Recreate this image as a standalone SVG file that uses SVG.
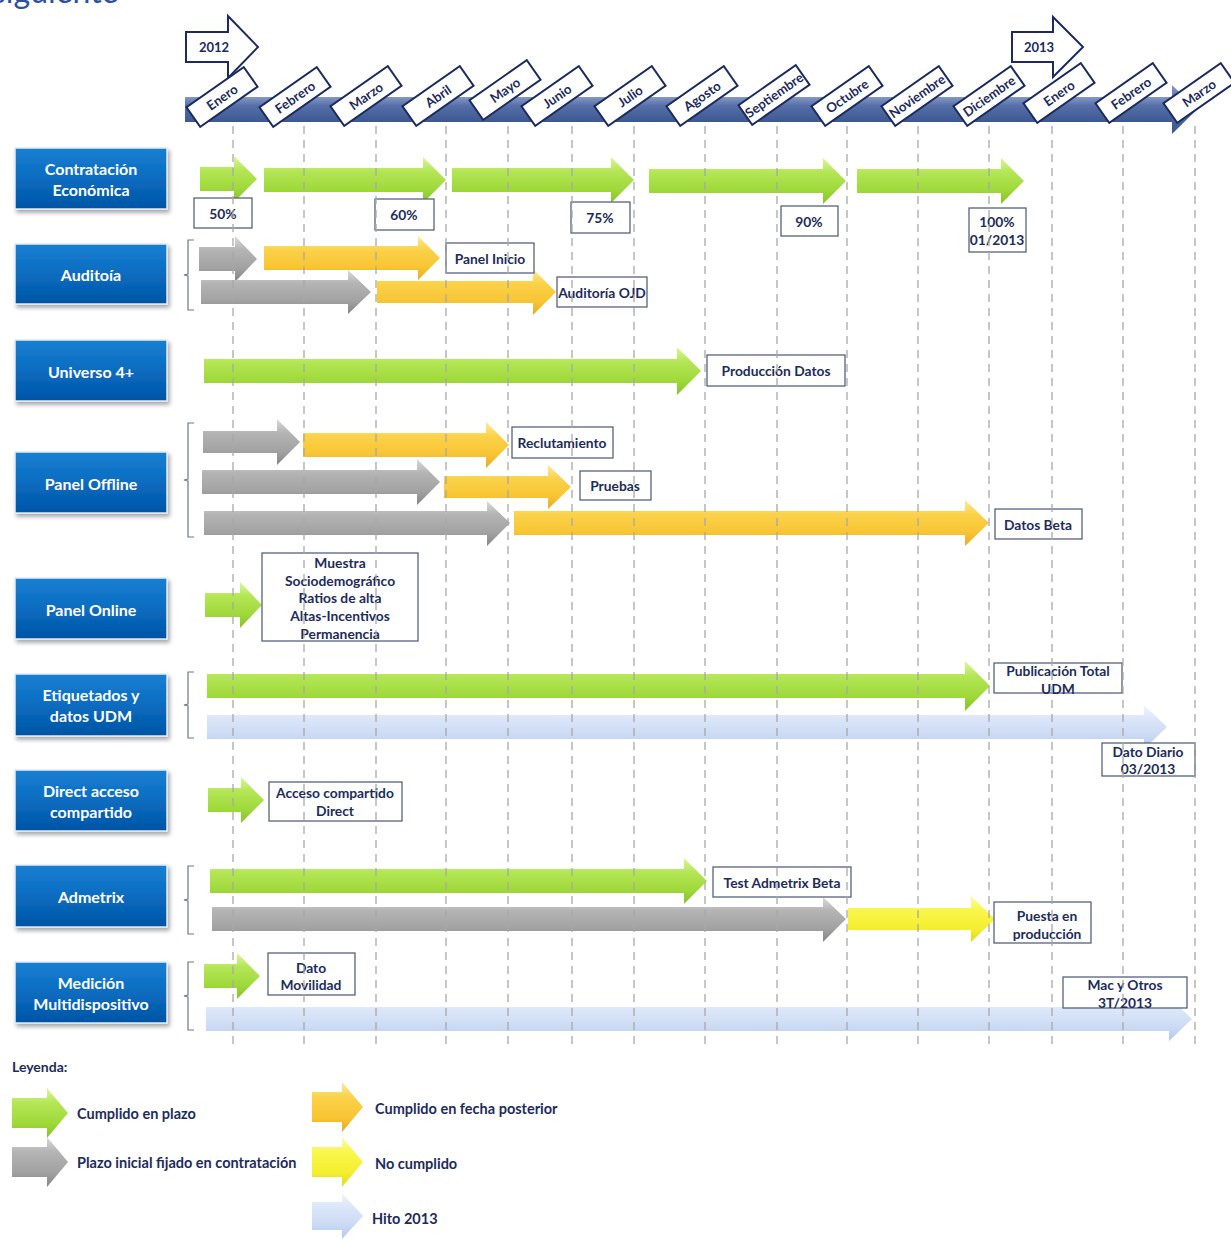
<svg xmlns="http://www.w3.org/2000/svg" width="1231" height="1239" viewBox="0 0 1231 1239">
  <defs>
    <linearGradient id="gGreen" x1="0" y1="0" x2="0" y2="1">
      <stop offset="0" stop-color="#dcf79a"/>
      <stop offset="0.3" stop-color="#b4e656"/>
      <stop offset="0.7" stop-color="#9fd93a"/>
      <stop offset="1" stop-color="#86c428"/>
    </linearGradient>
    <linearGradient id="gGray" x1="0" y1="0" x2="0" y2="1">
      <stop offset="0" stop-color="#dadada"/>
      <stop offset="0.3" stop-color="#b4b4b4"/>
      <stop offset="0.7" stop-color="#a2a2a2"/>
      <stop offset="1" stop-color="#858585"/>
    </linearGradient>
    <linearGradient id="gOrange" x1="0" y1="0" x2="0" y2="1">
      <stop offset="0" stop-color="#feea96"/>
      <stop offset="0.3" stop-color="#fbd24a"/>
      <stop offset="0.7" stop-color="#f8c534"/>
      <stop offset="1" stop-color="#eaaa1e"/>
    </linearGradient>
    <linearGradient id="gYellow" x1="0" y1="0" x2="0" y2="1">
      <stop offset="0" stop-color="#fdfda8"/>
      <stop offset="0.3" stop-color="#f9f64c"/>
      <stop offset="0.7" stop-color="#f4ef30"/>
      <stop offset="1" stop-color="#e2da1c"/>
    </linearGradient>
    <linearGradient id="gBlue" x1="0" y1="0" x2="0" y2="1">
      <stop offset="0" stop-color="#f2f6fe"/>
      <stop offset="0.3" stop-color="#dbe6f9"/>
      <stop offset="0.7" stop-color="#cbdaf4"/>
      <stop offset="1" stop-color="#b2c8ec"/>
    </linearGradient>
    <linearGradient id="gNode" x1="0" y1="0" x2="0" y2="1">
      <stop offset="0" stop-color="#1a7fd2"/>
      <stop offset="0.5" stop-color="#0a6cc0"/>
      <stop offset="1" stop-color="#0054a4"/>
    </linearGradient>
    <linearGradient id="gBar" x1="0" y1="0" x2="0" y2="1">
      <stop offset="0" stop-color="#8599c6"/>
      <stop offset="0.35" stop-color="#566fa8"/>
      <stop offset="1" stop-color="#3d5790"/>
    </linearGradient>
    <filter id="shadow" x="-10%" y="-20%" width="125%" height="150%">
      <feDropShadow dx="2" dy="3" stdDeviation="2" flood-color="#000" flood-opacity="0.35"/>
    </filter>
    <style>
      text { font-family: Lato, "Liberation Sans", sans-serif; font-weight: 700; }
      .node rect { fill: url(#gNode); stroke: #e4ebf4; stroke-width: 1.5; filter: url(#shadow); }
      .node text { fill: #ffffff; font-size: 16px; text-anchor: middle; dominant-baseline: central; }
      .lbl rect { fill: #ffffff; stroke: #56627e; stroke-width: 1.3; }
      .lbl text { fill: #1d2c5c; font-size: 13.8px; text-anchor: middle; dominant-baseline: central; }
      .month rect { fill: #ffffff; stroke: #1c2b5e; stroke-width: 2; }
      .month text { fill: #1c2b5e; font-size: 13.2px; text-anchor: middle; dominant-baseline: central; }
      .year path { fill: #ffffff; stroke: #1c2b5e; stroke-width: 2; }
      .year text { fill: #1c2b5e; font-size: 13px; text-anchor: middle; dominant-baseline: central; }
      .g { fill: url(#gGreen); }
      .gr { fill: url(#gGray); }
      .o { fill: url(#gOrange); }
      .y { fill: url(#gYellow); }
      .b { fill: url(#gBlue); }
      .brace { fill: none; stroke: #6e7686; stroke-width: 1.2; }
      .grid line { stroke: #a8a8a8; stroke-width: 2; stroke-dasharray: 8 6; opacity: 0.65; }
      .legend text { fill: #1d2c5c; font-size: 14.5px; dominant-baseline: central; }
    </style>
  </defs>

  <rect width="1231" height="1239" fill="#ffffff"/>

  <!-- heading line running off the top edge -->
  <text x="-8" y="3" font-size="32" fill="#2e4f9e" style="font-weight:400">siguiente</text>

  <!-- timeline bar -->
  <g id="timeline">
    <rect x="185" y="97" width="988" height="25" fill="url(#gBar)"/>
    <path d="M1172,85 L1197,109.5 L1172,134 Z" fill="url(#gBar)"/>
  </g>

  <!-- year markers -->
  <g id="year-2012" class="year">
    <path d="M186,32 H228 V16 L258,47 L228,78 V62 H186 Z"/>
    <text x="214" y="47">2012</text>
  </g>
  <g id="year-2013" class="year">
    <path d="M1012,32 H1053 V17 L1083,47 L1053,77 V62 H1012 Z"/>
    <text x="1039" y="47">2013</text>
  </g>

  <!-- month tags -->
  <g id="months" class="month">
    <g transform="translate(222,97) rotate(-35)"><rect x="-35" y="-12" width="70" height="24"/><text>Enero</text></g>
    <g transform="translate(295,97) rotate(-35)"><rect x="-35" y="-12" width="70" height="24"/><text>Febrero</text></g>
    <g transform="translate(366,96) rotate(-35)"><rect x="-35" y="-12" width="70" height="24"/><text>Marzo</text></g>
    <g transform="translate(438,96) rotate(-35)"><rect x="-35" y="-12" width="70" height="24"/><text>Abril</text></g>
    <g transform="translate(505,90) rotate(-35)"><rect x="-35" y="-12" width="70" height="24"/><text>Mayo</text></g>
    <g transform="translate(557,96) rotate(-35)"><rect x="-35" y="-12" width="70" height="24"/><text>Junio</text></g>
    <g transform="translate(630,96) rotate(-35)"><rect x="-35" y="-12" width="70" height="24"/><text>Julio</text></g>
    <g transform="translate(702,96) rotate(-35)"><rect x="-35" y="-12" width="70" height="24"/><text>Agosto</text></g>
    <g transform="translate(774,95) rotate(-35)"><rect x="-35" y="-12" width="70" height="24"/><text>Septiembre</text></g>
    <g transform="translate(847,96) rotate(-35)"><rect x="-35" y="-12" width="70" height="24"/><text>Octubre</text></g>
    <g transform="translate(917,96) rotate(-35)"><rect x="-35" y="-12" width="70" height="24"/><text>Noviembre</text></g>
    <g transform="translate(989,96) rotate(-35)"><rect x="-35" y="-12" width="70" height="24"/><text>Diciembre</text></g>
    <g transform="translate(1059,93) rotate(-35)"><rect x="-35" y="-12" width="70" height="24"/><text>Enero</text></g>
    <g transform="translate(1131,93) rotate(-35)"><rect x="-35" y="-12" width="70" height="24"/><text>Febrero</text></g>
    <g transform="translate(1199,93) rotate(-35)"><rect x="-35" y="-12" width="70" height="24"/><text>Marzo</text></g>
  </g>

  <!-- work-stream boxes -->
  <g id="n-contratacion" class="node"><rect x="15" y="148" width="152" height="61"/><text x="91" y="168">Contratación</text><text x="91" y="189">Económica</text></g>
  <g id="n-auditoria" class="node"><rect x="15" y="244" width="152" height="60"/><text x="91" y="274">Auditoía</text></g>
  <g id="n-universo" class="node"><rect x="15" y="340" width="152" height="61"/><text x="91" y="371">Universo 4+</text></g>
  <g id="n-offline" class="node"><rect x="15" y="452" width="152" height="61"/><text x="91" y="483">Panel Offline</text></g>
  <g id="n-online" class="node"><rect x="15" y="578" width="152" height="61"/><text x="91" y="609">Panel Online</text></g>
  <g id="n-etiquetados" class="node"><rect x="15" y="674" width="152" height="62"/><text x="91" y="694">Etiquetados y</text><text x="91" y="715">datos UDM</text></g>
  <g id="n-direct" class="node"><rect x="15" y="770" width="152" height="61"/><text x="91" y="790">Direct acceso</text><text x="91" y="811">compartido</text></g>
  <g id="n-admetrix" class="node"><rect x="15" y="865" width="152" height="62"/><text x="91" y="896">Admetrix</text></g>
  <g id="n-medicion" class="node"><rect x="15" y="962" width="152" height="61"/><text x="91" y="982">Medición</text><text x="91" y="1003">Multidispositivo</text></g>

  <!-- braces grouping parallel tracks -->
  <g id="braces">
    <path class="brace" d="M194,240 H188 V274 L184,275 L188,276 V310 H194"/>
    <path class="brace" d="M194,423 H188 V479 L184,480 L188,481 V537 H194"/>
    <path class="brace" d="M194,672 H188 V704 L184,705 L188,706 V738 H194"/>
    <path class="brace" d="M194,866 H188 V899 L184,900 L188,901 V934 H194"/>
    <path class="brace" d="M194,962 H188 V995 L184,996 L188,997 V1030 H194"/>
  </g>

  <!-- connectors: progress arrows -->
  <g id="connectors">
    <!-- Contratación Económica -->
    <path class="g" d="M200,167H234V156L257,179L234,202V191H200Z"/>
    <path class="g" d="M264,168H423V157L446,180L423,203V192H264Z"/>
    <path class="g" d="M452,168H611V157L634,180L611,203V192H452Z"/>
    <path class="g" d="M649,169H823V158L846,181L823,204V193H649Z"/>
    <path class="g" d="M857,169H1001V158L1024,181L1001,204V193H857Z"/>
    <!-- Auditoía -->
    <path class="gr" d="M199,247H235V236L257,259L235,282V271H199Z"/>
    <path class="o" d="M264,246H418V236L440,258L418,280V270H264Z"/>
    <path class="gr" d="M201,280H348V270L371,292L348,314V304H201Z"/>
    <path class="o" d="M377,281H533V269L556,292L533,315V303H377Z"/>
    <!-- Universo 4+ -->
    <path class="g" d="M204,359H677V347L701,371L677,395V383H204Z"/>
    <!-- Panel Offline -->
    <path class="gr" d="M203,431H277V419L300,442L277,465V453H203Z"/>
    <path class="o" d="M303,433H486V422L509,445L486,468V457H303Z"/>
    <path class="gr" d="M202,470H417V459L440,482L417,505V494H202Z"/>
    <path class="o" d="M444,476H548V465L571,487L548,509V498H444Z"/>
    <path class="gr" d="M204,511H487V501L510,523L487,546V535H204Z"/>
    <path class="o" d="M514,511H965V500L989,523L965,546V535H514Z"/>
    <!-- Panel Online -->
    <path class="g" d="M205,593H240V582L262,605L240,628V617H205Z"/>
    <!-- Etiquetados y datos UDM -->
    <path class="g" d="M207,674H965V661L990,686L965,711V698H207Z"/>
    <path class="b" d="M207,715H1144V705L1167,727L1144,749V739H207Z"/>
    <!-- Direct acceso compartido -->
    <path class="g" d="M208,788H241V777L264,800L241,823V812H208Z"/>
    <!-- Admetrix -->
    <path class="g" d="M210,869H684V858L707,881L684,904V893H210Z"/>
    <path class="gr" d="M212,907H823V897L846,919L823,942V931H212Z"/>
    <path class="y" d="M848,908H971V896L995,919L971,942V930H848Z"/>
    <!-- Medición Multidispositivo -->
    <path class="g" d="M204,964H237V953L260,976L237,999V988H204Z"/>
    <path class="b" d="M206,1007H1169V997L1192,1019L1169,1041V1031H206Z"/>
  </g>

  <!-- milestone labels -->
  <g id="labels" class="lbl">
    <g id="l-50"><rect x="194" y="198" width="58" height="30"/><text x="223" y="213">50%</text></g>
    <g id="l-60"><rect x="375" y="199" width="59" height="31"/><text x="404" y="214">60%</text></g>
    <g id="l-75"><rect x="571" y="202" width="59" height="31"/><text x="600" y="217">75%</text></g>
    <g id="l-90"><rect x="781" y="206" width="57" height="30"/><text x="809" y="221">90%</text></g>
    <g id="l-100"><rect x="969" y="208" width="57" height="44"/><text x="997" y="221">100%</text><text x="997" y="239">01/2013</text></g>
    <g id="l-panel-inicio"><rect x="446" y="243" width="88" height="30"/><text x="490" y="258">Panel Inicio</text></g>
    <g id="l-ojd"><rect x="557" y="277" width="90" height="30"/><text x="602" y="292">Auditoría OJD</text></g>
    <g id="l-produccion"><rect x="707" y="355" width="138" height="31"/><text x="776" y="370">Producción Datos</text></g>
    <g id="l-reclutamiento"><rect x="512" y="427" width="101" height="31"/><text x="562" y="442">Reclutamiento</text></g>
    <g id="l-pruebas"><rect x="580" y="471" width="71" height="29"/><text x="615" y="485">Pruebas</text></g>
    <g id="l-datos-beta"><rect x="995" y="509" width="87" height="30"/><text x="1038" y="524">Datos Beta</text></g>
    <g id="l-muestra"><rect x="262" y="553" width="156" height="88"/>
      <text x="340" y="562">Muestra</text><text x="340" y="580">Sociodemográfico</text><text x="340" y="597">Ratios de alta</text><text x="340" y="615">Altas-Incentivos</text><text x="340" y="633">Permanencia</text></g>
    <g id="l-publicacion"><rect x="994" y="663" width="128" height="30"/><text x="1058" y="670">Publicación Total</text><text x="1058" y="688">UDM</text></g>
    <g id="l-dato-diario"><rect x="1102" y="743" width="93" height="33"/><text x="1148" y="751">Dato Diario</text><text x="1148" y="768">03/2013</text></g>
    <g id="l-acceso"><rect x="269" y="782" width="133" height="39"/><text x="335" y="792">Acceso compartido</text><text x="335" y="810">Direct</text></g>
    <g id="l-test"><rect x="713" y="867" width="138" height="30"/><text x="782" y="882">Test Admetrix Beta</text></g>
    <g id="l-puesta"><rect x="994" y="902" width="97" height="41"/><text x="1047" y="915">Puesta en</text><text x="1047" y="933">producción</text></g>
    <g id="l-movilidad"><rect x="268" y="953" width="87" height="42"/><text x="311" y="967">Dato</text><text x="311" y="984">Movilidad</text></g>
    <g id="l-mac"><rect x="1063" y="977" width="124" height="31"/><text x="1125" y="984">Mac y Otros</text><text x="1125" y="1002">3T/2013</text></g>
  </g>

  <!-- month grid -->
  <g id="grid" class="grid">
    <line x1="233" y1="126" x2="233" y2="1046"/>
    <line x1="304" y1="126" x2="304" y2="1046"/>
    <line x1="376" y1="126" x2="376" y2="1046"/>
    <line x1="446" y1="126" x2="446" y2="1046"/>
    <line x1="508" y1="126" x2="508" y2="1046"/>
    <line x1="572" y1="126" x2="572" y2="1046"/>
    <line x1="634" y1="126" x2="634" y2="1046"/>
    <line x1="705" y1="126" x2="705" y2="1046"/>
    <line x1="777" y1="126" x2="777" y2="1046"/>
    <line x1="847" y1="126" x2="847" y2="1046"/>
    <line x1="918" y1="126" x2="918" y2="1046"/>
    <line x1="989" y1="126" x2="989" y2="1046"/>
    <line x1="1052" y1="126" x2="1052" y2="1046"/>
    <line x1="1123" y1="126" x2="1123" y2="1046"/>
    <line x1="1195" y1="126" x2="1195" y2="1046"/>
  </g>

  <!-- legend -->
  <g id="legend" class="legend">
    <text x="12" y="1066" style="font-size:14px">Leyenda:</text>
    <path class="g" d="M12,1098H47V1088L68,1113L47,1138V1128H12Z"/>
    <text x="77" y="1113">Cumplido en plazo</text>
    <path class="gr" d="M12,1147H47V1137L68,1162L47,1187V1177H12Z"/>
    <text x="77" y="1162">Plazo inicial fijado en contratación</text>
    <path class="o" d="M312,1092H342V1082L363,1107L342,1132V1122H312Z"/>
    <text x="375" y="1108">Cumplido en fecha posterior</text>
    <path class="y" d="M312,1147H342V1137L363,1162L342,1187V1177H312Z"/>
    <text x="375" y="1163">No cumplido</text>
    <path class="b" d="M312,1202H342V1193L363,1216L342,1239V1230H312Z"/>
    <text x="372" y="1218">Hito 2013</text>
  </g>
</svg>
